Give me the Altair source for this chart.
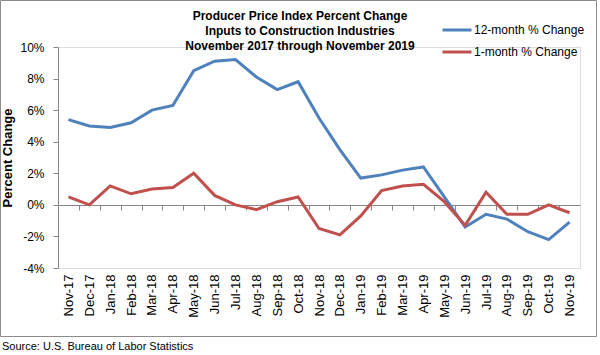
import altair as alt
import pandas as pd

months = ["Nov-17", "Dec-17", "Jan-18", "Feb-18", "Mar-18", "Apr-18", "May-18", "Jun-18",
          "Jul-18", "Aug-18", "Sep-18", "Oct-18", "Nov-18", "Dec-18", "Jan-19", "Feb-19",
          "Mar-19", "Apr-19", "May-19", "Jun-19", "Jul-19", "Aug-19", "Sep-19", "Oct-19", "Nov-19"]
twelve_month = [5.4, 5.0, 4.9, 5.2, 6.0, 6.3, 8.5, 9.1, 9.2, 8.1, 7.3, 7.8, 5.5, 3.5, 1.7, 1.9,
                2.2, 2.4, 0.5, -1.4, -0.6, -0.9, -1.7, -2.2, -1.1]
one_month = [0.5, 0.0, 1.2, 0.7, 1.0, 1.1, 2.0, 0.6, 0.0, -0.3, 0.2, 0.5, -1.5, -1.9, -0.7, 0.9,
             1.2, 1.3, 0.2, -1.3, 0.8, -0.6, -0.6, 0.0, -0.5]
series_names = ["12-month % Change", "1-month % Change"]
series_colors = ["#4F81BD", "#C0504D"]
y_ticks = [-4, -2, 0, 2, 4, 6, 8, 10]
title_lines = ["Producer Price Index Percent Change",
               "Inputs to Construction Industries",
               "November 2017 through November 2019"]
source_text = ["Source: U.S. Bureau of Labor Statistics"]

FONT = "Liberation Sans"
n = len(months)
df = pd.DataFrame({
    "month": months * 2,
    "value": twelve_month + one_month,
    "series": [series_names[0]] * n + [series_names[1]] * n,
    "order": list(range(n)) * 2,
})

W, H = 522, 221
step = W / n
x_scale = alt.Scale(type="point", domain=months, padding=0.5)
y_scale = alt.Scale(domain=[-4, 10], nice=False, zero=False)

base = alt.Chart(df)

tick_layer = base.mark_line(opacity=0).encode(
    x=alt.X("month:N", scale=x_scale, sort=months,
            axis=alt.Axis(orient="bottom", labels=False, title=None, domain=True,
                          domainColor="#868686", domainWidth=1, ticks=True,
                          tickColor="#868686", tickSize=5,
                          tickOffset=-step / 2, offset=-63, grid=False)),
    y=alt.Y("value:Q", scale=y_scale, axis=None),
)

lines = base.mark_line(strokeWidth=3).encode(
    x=alt.X("month:N", scale=x_scale, sort=months,
            axis=alt.Axis(orient="bottom", title=None, domain=False, ticks=False, labelAngle=-90,
                          labelAlign="right", labelBaseline="middle", labelPadding=6,
                          labelFontSize=13, labelColor="black", labelFont=FONT, grid=False)),
    y=alt.Y("value:Q", scale=y_scale,
            axis=alt.Axis(orient="left", values=y_ticks, labelExpr="datum.value + '%'",
                          title="Percent Change",
                          titleFont=FONT, titleFontSize=13, titleFontWeight="bold",
                          titleColor="black", titlePadding=5,
                          labelFont=FONT, labelFontSize=12, labelColor="black", labelPadding=9,
                          domainColor="#868686", tickColor="#868686", tickSize=5, grid=False)),
    color=alt.Color("series:N", scale=alt.Scale(domain=series_names, range=series_colors),
                    legend=alt.Legend(title=None, orient="none", legendX=383, legendY=-33,
                                      symbolType="stroke", symbolStrokeWidth=3, symbolSize=841,
                                      labelFont=FONT, labelFontSize=12, labelColor="black",
                                      labelOffset=1, rowPadding=-3)),
    order="order:Q",
)

src = alt.Chart(pd.DataFrame({"t": source_text})).mark_text(
    align="left", baseline="middle", font=FONT, fontSize=11, color="black"
).encode(x=alt.value(-56), y=alt.value(300), text="t:N")

frame = alt.Chart(pd.DataFrame({"a": [0]})).mark_rect(
    fillOpacity=0, stroke="#8c8c8c", strokeWidth=1
).encode(x=alt.value(-57.5), x2=alt.value(538.5), y=alt.value(-46.5), y2=alt.value(289.5))

chart = alt.layer(frame, tick_layer, lines, src).resolve_axis(
    x="independent", y="independent"
).properties(
    width=W, height=H,
    autosize=alt.AutoSizeParams(type="none"),
    padding={"left": 58, "top": 47, "right": 20, "bottom": 87},
    title=alt.TitleParams(text=title_lines, anchor="middle", font=FONT, fontSize=12,
                          fontWeight="bold", color="black", lineHeight=15, dx=-19, offset=-53),
).configure_view(stroke=None).configure(background="white")

chart.save("out.html", embed_options={"renderer": "svg", "actions": False})
